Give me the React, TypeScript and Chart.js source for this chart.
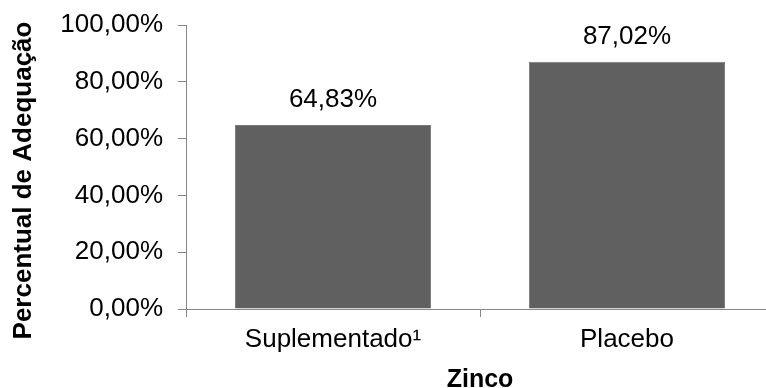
import React, { useEffect, useRef } from "react";
import { Chart, registerables } from "chart.js";

Chart.register(...registerables);

const categories = ["Suplementado¹", "Placebo"];
const adequacy = [64.83, 87.02];
const yTicks = [0, 20, 40, 60, 80, 100];
const xTitle = "Zinco";
const yTitle = "Percentual de Adequação";

const FONT = "'Liberation Sans', Arial, Helvetica, sans-serif";
const AXIS_GREY = "#868686";

const fmtPct = (v: number) => v.toFixed(2).replace(".", ",") + "%";

// Axis titles and the value labels over each bar
const labelsPlugin = {
  id: "labelsPlugin",
  afterDraw(chart: any) {
    const { ctx, chartArea } = chart;
    ctx.save();
    ctx.fillStyle = "#000";

    // value labels
    ctx.font = `26px ${FONT}`;
    ctx.textAlign = "center";
    ctx.textBaseline = "alphabetic";
    const meta = chart.getDatasetMeta(0);
    meta.data.forEach((bar: any, i: number) => {
      ctx.fillText(fmtPct(adequacy[i]), bar.x, bar.y - 17.5);
    });

    // x title
    ctx.font = `bold 25px ${FONT}`;
    ctx.fillText(xTitle, (chartArea.left + chartArea.right) / 2, 386.5);

    // y title
    ctx.translate(31, 180.5);
    ctx.rotate(-Math.PI / 2);
    ctx.font = `bold 26px ${FONT}`;
    ctx.fillText(yTitle, 0, 0);
    ctx.restore();
  },
};

export default function App() {
  const ref = useRef<HTMLCanvasElement | null>(null);

  useEffect(() => {
    if (!ref.current) return;
    const chart = new Chart(ref.current, {
      type: "bar",
      data: {
        labels: categories,
        datasets: [
          {
            data: adequacy,
            backgroundColor: "#606060",
            borderColor: "#7a7a7a",
            borderWidth: 1,
            categoryPercentage: 1,
            barPercentage: 0.667,
          },
        ],
      },
      options: {
        responsive: false,
        animation: false,
        devicePixelRatio: 1,
        layout: { padding: { top: 25, right: 6, left: 0, bottom: 0 } },
        plugins: {
          legend: { display: false },
          tooltip: { enabled: false },
        },
        scales: {
          x: {
            type: "category",
            offset: true,
            grid: {
              display: true,
              drawOnChartArea: false,
              drawTicks: true,
              tickLength: 8,
              color: AXIS_GREY,
              offset: true,
            },
            border: { display: true, color: AXIS_GREY, width: 1 },
            ticks: {
              color: "#000",
              padding: 7,
              maxRotation: 0,
              autoSkip: false,
              font: { family: FONT, size: 26 },
            },
            afterFit: (scale: any) => {
              scale.height = 79;
            },
          },
          y: {
            min: 0,
            max: 100,
            afterBuildTicks: (scale: any) => {
              scale.ticks = yTicks.map((v) => ({ value: v }));
            },
            grid: {
              display: true,
              drawOnChartArea: false,
              drawTicks: true,
              tickLength: 8,
              color: AXIS_GREY,
            },
            border: { display: true, color: AXIS_GREY, width: 1 },
            ticks: {
              color: "#000",
              padding: 15,
              font: { family: FONT, size: 26 },
              callback: (v: any) => fmtPct(Number(v)),
            },
            afterFit: (scale: any) => {
              scale.width = 186;
              scale.paddingTop = 0;
              scale.paddingBottom = 0;
            },
          },
        },
      },
      plugins: [labelsPlugin],
    });
    return () => chart.destroy();
  }, []);

  return (
    <div
      style={{
        position: "absolute",
        left: 0,
        top: 0,
        width: 766,
        height: 388,
        overflow: "hidden",
        background: "#fff",
      }}
    >
      <canvas ref={ref} width={780} height={388} style={{ display: "block", width: 780, height: 388 }} />
    </div>
  );
}
